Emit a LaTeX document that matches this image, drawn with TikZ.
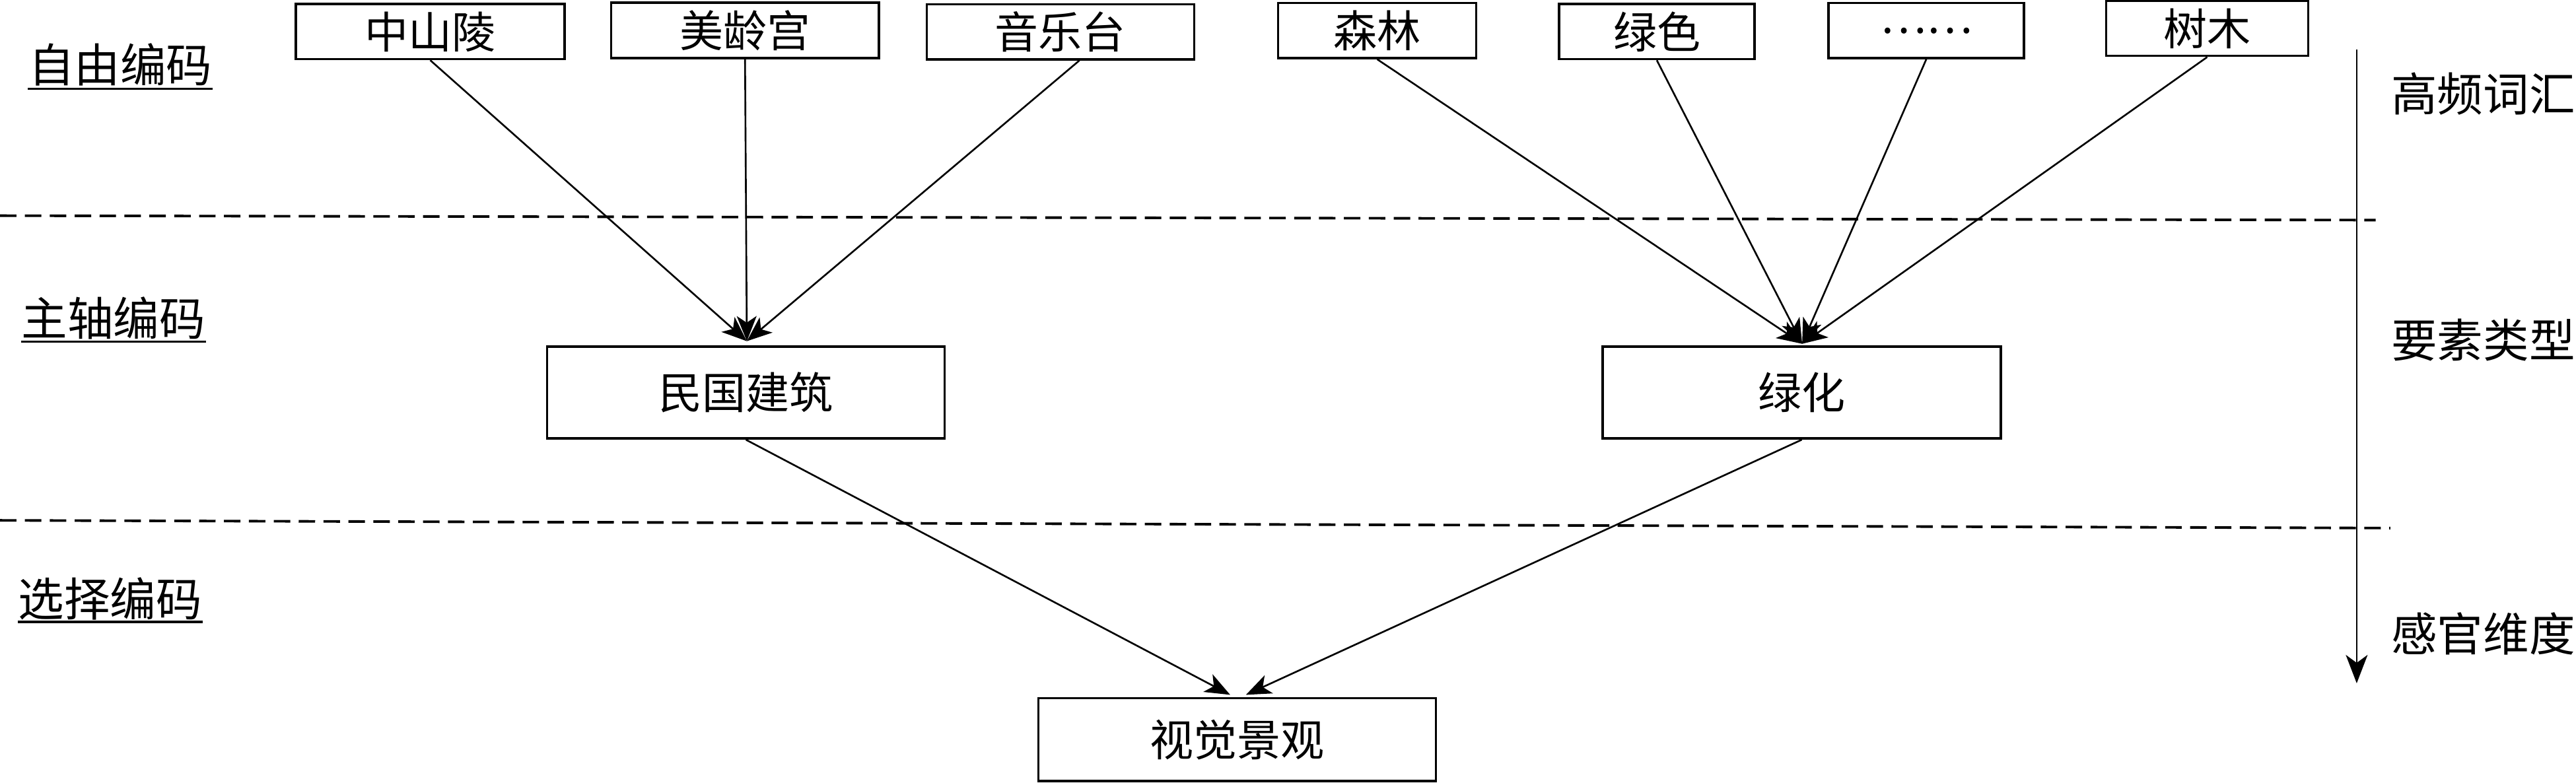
\documentclass[tikz,border=0pt]{standalone}
\usepackage{fontspec}
\newfontfamily\cjk{Noto Sans CJK SC}
\usetikzlibrary{arrows.meta,calc}
\begin{document}
\begin{tikzpicture}[x=0.02488cm,y=-0.02488cm,
  box/.style={draw,line width=1pt,inner sep=0pt,font=\cjk\fontsize{18.8pt}{20pt}\selectfont},
  lbl/.style={inner sep=0pt,font=\cjk\fontsize{19.8pt}{21pt}\selectfont},
  arr/.style={line width=0.75pt,-{Stealth[length=0.38cm,width=0.3cm,inset=0.1cm]}},
  axisarr/.style={line width=0.7pt,-{Stealth[length=0.43cm,width=0.33cm,inset=0.12cm]}},
  sep/.style={line width=1.1pt,dash pattern=on 0.25cm off 0.127cm},
  uline/.style={line width=1pt}]
\useasboundingbox (0,0) rectangle (1568,476.7);

% top boxes
\node[box,minimum width=4.073cm,minimum height=0.833cm] (zsl) at (261.9,19.25) {中山陵};
\node[box,minimum width=4.055cm,minimum height=0.843cm] (mlg) at (453.5,18.45) {美龄宫};
\node[box,minimum width=4.055cm,minimum height=0.833cm] (ylt) at (645.5,19.4) {音乐台};
\node[box,minimum width=3.0cm,minimum height=0.836cm] (sl) at (838.3,18.6) {森林};
\node[box,minimum width=2.96cm,minimum height=0.836cm] (ls) at (1008.5,19.2) {绿色};
\node[box,minimum width=2.96cm,minimum height=0.836cm] (dd) at (1172.5,18.6) {……};
\node[box,minimum width=3.06cm,minimum height=0.833cm] (sm) at (1343.5,17.3) {树木};

% middle boxes
\node[box,minimum width=6.02cm,minimum height=1.393cm] (mg) at (454,239) {民国建筑};
\node[box,minimum width=6.033cm,minimum height=1.393cm] (lh) at (1096.75,239) {绿化};

% bottom box
\node[box,minimum width=6.02cm,minimum height=1.256cm] (sj) at (753,450.25) {视觉景观};

% separators
\draw[sep] (0,131.3) -- (1446,134);
\draw[sep] (0,316.8) -- (1455,321.5);

% left labels
\node[lbl] (l1) at (73.25,39.3) {自由编码};
\node[lbl] (l2) at (69,193.5) {主轴编码};
\node[lbl] (l3) at (67,364.5) {选择编码};
\draw[uline] (l1.west |- 0,54) -- (l1.east |- 0,54);
\draw[uline] (l2.west |- 0,208) -- (l2.east |- 0,208);
\draw[uline] (l3.west |- 0,378.6) -- (l3.east |- 0,378.6);

% right labels
\node[lbl] (r1) at (1511.5,57) {高频词汇};
\node[lbl] (r2) at (1511.5,207) {要素类型};
\node[lbl] (r3) at (1511.5,386) {感官维度};

% axis arrow
\coordinate (vtop) at (1434.5,30);
\coordinate (vbot) at (1434.5,416);
\draw[axisarr] (vtop) -- (vbot);

% converging arrows
\coordinate (tL) at ($(mg.north)+(0.6,-2.6)$);
\coordinate (tR) at ($(lh.north)+(0.2,-1)$);
\coordinate (tB1) at ($(sj.north)+(-4.2,-1.3)$);
\coordinate (tB2) at ($(sj.north)+(5.4,-1.3)$);

\draw[arr] (zsl.south) -- (tL);
\draw[arr] (mlg.south) -- (tL);
\draw[arr] ([xshift=0.286cm]ylt.south) -- (tL);

\draw[arr] (sl.south) -- (tR);
\draw[arr] (ls.south) -- (tR);
\draw[arr] (dd.south) -- (tR);
\draw[arr] (sm.south) -- (tR);

\draw[arr] (mg.south) -- (tB1);
\draw[arr] (lh.south) -- (tB2);
\end{tikzpicture}
\end{document}
